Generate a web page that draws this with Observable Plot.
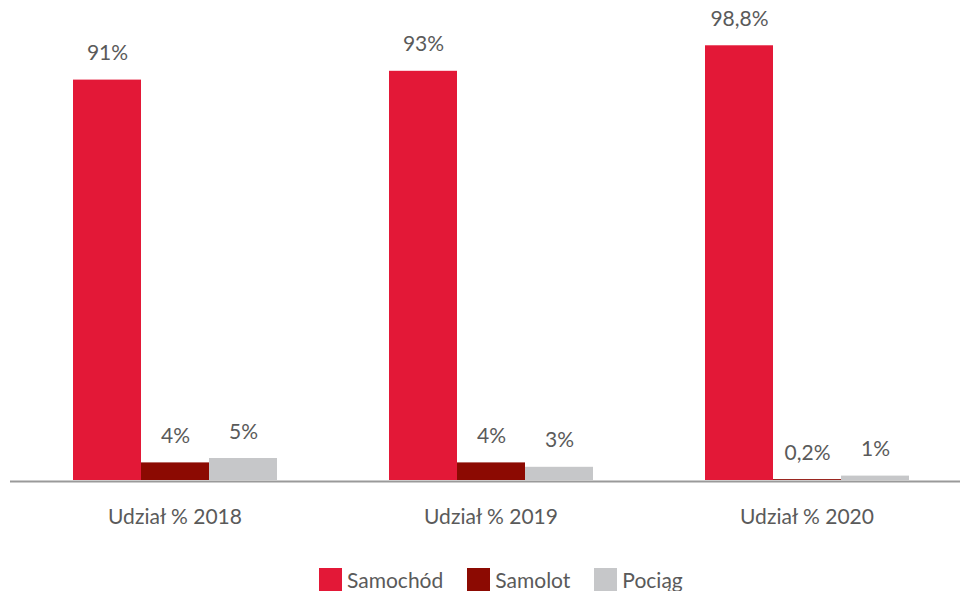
<!DOCTYPE html>
<html>
<head>
<meta charset="utf-8">
<script src="https://cdn.jsdelivr.net/npm/d3@7"></script>
<script src="https://cdn.jsdelivr.net/npm/@observablehq/plot@0.6"></script>
<style>
  html, body { margin: 0; padding: 0; background: #fff; }
  #chart { width: 960px; height: 591px; overflow: hidden; font-family: Lato, "Open Sans", sans-serif; }
  .legend { display: flex; align-items: center; margin-top: 23px; padding-left: 319px; font-size: 21px; color: #5a5a5a; line-height: 23px; }
  .legend .item { display: flex; align-items: center; margin-right: 24px; }
  .legend .sw { width: 23px; height: 23px; margin-right: 5px; display: inline-block; }
</style>
</head>
<body>
<div id="chart"></div>
<script>
const years = ["Udział % 2018", "Udział % 2019", "Udział % 2020"];
const modes = ["Samochód", "Samolot", "Pociąg"];
const samochod = [91, 93, 98.8];
const samolot = [4, 4, 0.2];
const pociag = [5, 3, 1];
const colors = ["#E31837", "#8C0A02", "#C6C7C9"];

const series = [samochod, samolot, pociag];
const data = [];
years.forEach((year, i) => {
  modes.forEach((mode, j) => {
    data.push({year, mode, value: series[j][i]});
  });
});
const fmt = v => String(v).replace(".", ",") + "%";

const plot = Plot.plot({
  width: 960,
  height: 545,
  marginLeft: 31,
  marginRight: 11,
  marginTop: 40,
  marginBottom: 65,
  style: {fontFamily: "Lato, 'Open Sans', sans-serif", fontSize: "21px", color: "#5a5a5a", background: "#fff"},
  fx: {domain: years, paddingInner: 0.3523, paddingOuter: 0.1264, label: null, axis: "bottom", tickSize: 0, tickPadding: 29},
  x: {domain: modes, padding: 0, axis: null},
  y: {domain: [0, 100], axis: null},
  color: {domain: modes, range: colors},
  marks: [
    Plot.ruleY([years[0]], {fx: d => d, y: () => 0, insetLeft: -62, insetRight: -700, stroke: "#9a9a9a", strokeWidth: 2, dy: 1}),
    Plot.barY(data, {fx: "year", x: "mode", y: "value", fill: "mode"}),
    Plot.text(data, {fx: "year", x: "mode", y: "value", text: d => fmt(d.value), dy: -20, lineAnchor: "bottom", fill: "#5a5a5a", fontSize: 21})
  ]
});
const chart = document.getElementById("chart");
chart.appendChild(plot);

const legend = document.createElement("div");
legend.className = "legend";
modes.forEach((m, i) => {
  const item = document.createElement("div");
  item.className = "item";
  const sw = document.createElement("span");
  sw.className = "sw";
  sw.style.background = colors[i];
  const t = document.createElement("span");
  t.textContent = m;
  item.appendChild(sw);
  item.appendChild(t);
  legend.appendChild(item);
});
chart.appendChild(legend);
</script>
</body>
</html>
